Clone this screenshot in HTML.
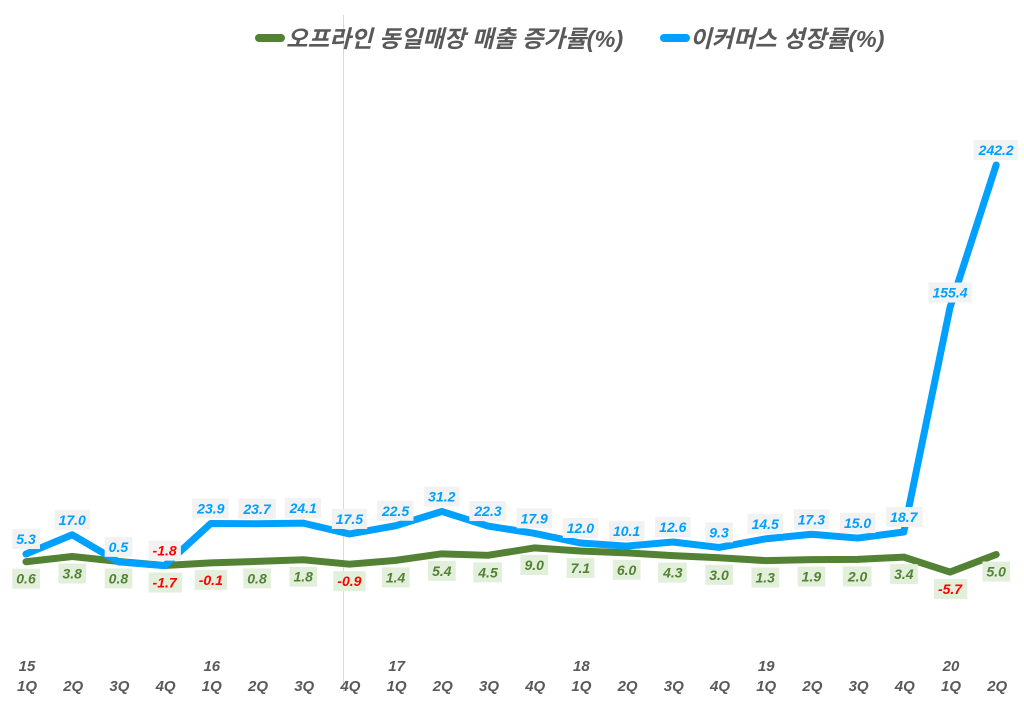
<!DOCTYPE html>
<html><head><meta charset="utf-8"><style>
html,body{margin:0;padding:0;background:#fff}
svg{display:block}
text{font-family:"Liberation Sans","Noto Sans CJK KR",sans-serif;font-weight:bold;font-style:italic}
</style></head><body>
<svg id="s" width="1024" height="713" viewBox="0 0 1024 713" xmlns="http://www.w3.org/2000/svg">
<line x1="343.5" y1="15" x2="343.5" y2="692" stroke="#d9d9d9" stroke-width="1"/>
<line x1="259" y1="38" x2="281" y2="38" stroke="#548235" stroke-width="8" stroke-linecap="round"/>
<text x="286" y="47" font-size="23.5" fill="#595959">오프라인 동일매장 매출 증가률(%)</text>
<line x1="664" y1="38" x2="686" y2="38" stroke="#00a0ff" stroke-width="8" stroke-linecap="round"/>
<text x="690" y="47" font-size="23.5" fill="#595959">이커머스 성장률(%)</text>
<g id="g"></g>
</svg>
<script>
var B=[5.3,17.0,0.5,-1.8,23.9,23.7,24.1,17.5,22.5,31.2,22.3,17.9,12.0,10.1,12.6,9.3,14.5,17.3,15.0,18.7,155.4,242.2];
var G=[0.6,3.8,0.8,-1.7,-0.1,0.8,1.8,-0.9,1.4,5.4,4.5,9.0,7.1,6.0,4.3,3.0,1.3,1.9,2.0,3.4,-5.7,5.0];
var Q=["1Q","2Q","3Q","4Q"],Y={0:"15",4:"16",8:"17",12:"18",16:"19",20:"20"};
var g=document.getElementById('g'),NS="http://www.w3.org/2000/svg";
function X(i){return 26+i*46.2}function V(v){return 562.7-v*1.642}
function el(t,a,p){var e=document.createElementNS(NS,t);for(var k in a)e.setAttribute(k,a[k]);(p||g).appendChild(e);return e}
function line(d,c,w){el('polyline',{points:d.map(function(v,i){return X(i)+','+V(v)}).join(' '),fill:'none',stroke:c,'stroke-width':w,'stroke-linejoin':'round','stroke-linecap':'round'})}
line(G,'#548235',7);line(B,'#00a0ff',7);
function lab(x,y,v,col,bg){var t=el('text',{x:x,y:y,'font-size':14,fill:v<0?'#ff0000':col,'text-anchor':'middle'});t.textContent=v.toFixed(1);var b=t.getBBox();var r=el('rect',{x:b.x-4,y:b.y-2,width:b.width+8,height:b.height+4,fill:bg});g.insertBefore(r,t)}
for(var i=0;i<22;i++){lab(X(i),V(B[i])-10,B[i],'#00a0ff','#f2f2f2');lab(X(i),V(G[i])+22,G[i],'#548235','#e2efda');
var t=el('text',{x:X(i)+1,y:691,'font-size':15,fill:'#595959','text-anchor':'middle'});t.textContent=Q[i%4];
if(Y[i]){t=el('text',{x:X(i)+1,y:671,'font-size':15,fill:'#595959','text-anchor':'middle'});t.textContent=Y[i]}}
</script>
</body></html>
